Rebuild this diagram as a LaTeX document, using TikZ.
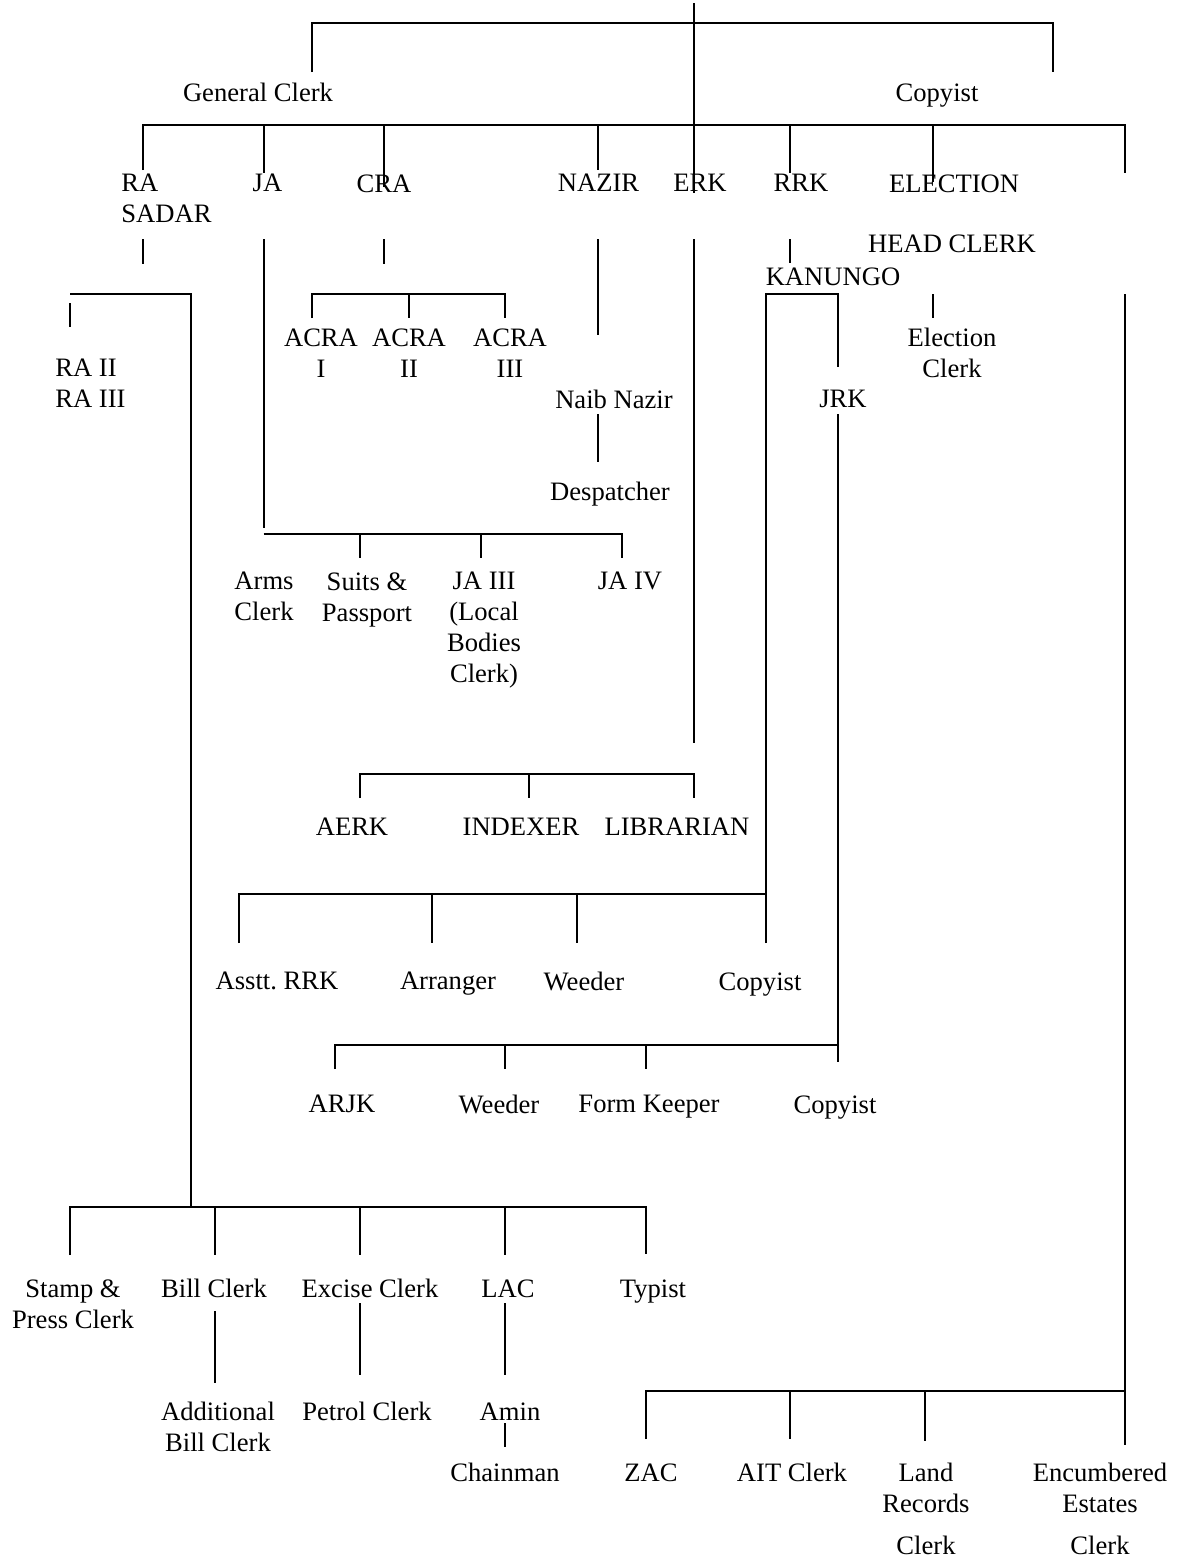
\documentclass[tikz,border=0pt]{standalone}
\usepackage{fontspec}
\setmainfont{Liberation Serif}
\frenchspacing
\begin{document}
\begin{tikzpicture}[x=0.5pt,y=-0.5pt,
  lbl/.style={font=\fontsize{13.3pt}{15.5pt}\selectfont, inner sep=0pt, anchor=north, align=center},
  conn/.style={line width=1pt, line join=miter}]
\useasboundingbox (0,0) rectangle (1184,1563);
% ---------- labels ----------
\node[lbl] (gc) at (258,83) {General Clerk};
\node[lbl] (cp0) at (937,83) {Copyist};
\node[lbl, anchor=north west, align=left] (ra) at (121,174) {RA\\SADAR};
\node[lbl] (ja) at (267.5,174) {JA};
\node[lbl] (cra) at (384,174) {CRA};
\node[lbl] (nazir) at (598.5,174) {NAZIR};
\node[lbl] (erk) at (700,174) {ERK};
\node[lbl] (rrk) at (801,174) {RRK};
\node[lbl] (election) at (954,174) {ELECTION};
\node[lbl] (headclerk) at (952,234) {HEAD CLERK};
\node[lbl] (kanungo) at (833,267) {KANUNGO};
\node[lbl] (acra1) at (321,328) {ACRA\\I};
\node[lbl] (acra2) at (409,328) {ACRA\\II};
\node[lbl] (acra3) at (510,328) {ACRA\\III};
\node[lbl] (elclerk) at (952,328) {Election\\Clerk};
\node[lbl, anchor=north west, align=left] (ra2) at (55,359) {RA II\\RA III};
\node[lbl] (naib) at (614,390) {Naib Nazir};
\node[lbl] (jrk) at (843,390) {JRK};
\node[lbl] (desp) at (610,482) {Despatcher};
\node[lbl] (arms) at (264,572) {Arms\\Clerk};
\node[lbl] (suits) at (367,572) {Suits \&\\Passport};
\node[lbl] (ja3) at (484,572) {JA III\\(Local\\Bodies\\Clerk)};
\node[lbl] (ja4) at (630,572) {JA IV};
\node[lbl] (aerk) at (352,818) {AERK};
\node[lbl] (indexer) at (521,818) {INDEXER};
\node[lbl] (librarian) at (677,818) {LIBRARIAN};
\node[lbl] (asstt) at (277,972) {Asstt.\ RRK};
\node[lbl] (arranger) at (448,972) {Arranger};
\node[lbl] (weedera) at (584,972) {Weeder};
\node[lbl] (copyista) at (760,972) {Copyist};
\node[lbl] (arjk) at (342,1095) {ARJK};
\node[lbl] (weederb) at (499,1095) {Weeder};
\node[lbl] (formkeeper) at (649,1095) {Form Keeper};
\node[lbl] (copyistb) at (835,1095) {Copyist};
\node[lbl] (stamp) at (73,1279) {Stamp \&\\Press Clerk};
\node[lbl] (bill) at (214,1279) {Bill Clerk};
\node[lbl] (excise) at (370,1279) {Excise Clerk};
\node[lbl] (lac) at (508,1279) {LAC};
\node[lbl] (typist) at (653,1279) {Typist};
\node[lbl] (addl) at (218,1402) {Additional\\Bill Clerk};
\node[lbl] (petrol) at (367,1402) {Petrol Clerk};
\node[lbl] (amin) at (510,1402) {Amin};
\node[lbl] (chain) at (505,1463) {Chainman};
\node[lbl] (zac) at (651,1463) {ZAC};
\node[lbl] (ait) at (792,1463) {AIT Clerk};
\node[lbl] (land) at (926,1463) {Land\\Records\\[5.5pt]Clerk};
\node[lbl] (encum) at (1100,1463) {Encumbered\\Estates\\[5.5pt]Clerk};
% ---------- connectors ----------
\draw[conn] (693.5,3) -- (693.5,193);
\draw[conn] (311.5,72) -- (311.5,23) -- (1053,23) -- (1053,72);
\draw[conn] (143,170) -- (143,125) -- (1125,125) -- (1125,173);
\draw[conn] (263.5,125) -- (263.5,173);
\draw[conn] (384,125) -- (384,187);
\draw[conn] (598,125) -- (598,170);
\draw[conn] (790,125) -- (790,173);
\draw[conn] (933,125) -- (933,182);
% RA SADAR
\draw[conn] (143,239) -- (143,264);
\draw[conn] (70,294) -- (191,294) -- (191,1207);
\draw[conn] (70,303) -- (70,327);
\draw[conn] (70,1255) -- (70,1207) -- (646,1207) -- (646,1254);
\draw[conn] (215,1207) -- (215,1255);
\draw[conn] (360,1207) -- (360,1255);
\draw[conn] (504.6,1207) -- (504.6,1255);
\draw[conn] (215,1311) -- (215,1383);
\draw[conn] (360,1303) -- (360,1375);
\draw[conn] (504.6,1303) -- (504.6,1375);
\draw[conn] (504.6,1423) -- (504.6,1447);
% CRA
\draw[conn] (384,239) -- (384,264);
\draw[conn] (311.5,318) -- (311.5,294) -- (504.6,294) -- (504.6,318);
\draw[conn] (408.5,294) -- (408.5,318);
% JA
\draw[conn] (263.5,239) -- (263.5,528);
\draw[conn] (263.5,534) -- (621.5,534) -- (621.5,558);
\draw[conn] (359.6,534) -- (359.6,558);
\draw[conn] (481,534) -- (481,558);
% NAZIR
\draw[conn] (598,239) -- (598,335);
\draw[conn] (598,414) -- (598,462);
% ERK
\draw[conn] (693.5,239) -- (693.5,743);
\draw[conn] (359.6,798) -- (359.6,774) -- (693.5,774) -- (693.5,798);
\draw[conn] (529,774) -- (529,798);
% RRK
\draw[conn] (790,239) -- (790,263);
\draw[conn] (766,943) -- (766,294) -- (838,294) -- (838,367);
\draw[conn] (239,943) -- (239,894) -- (766,894);
\draw[conn] (432,894) -- (432,943);
\draw[conn] (577,894) -- (577,943);
\draw[conn] (838,414) -- (838,1062);
\draw[conn] (335,1069) -- (335,1045) -- (838,1045);
\draw[conn] (504.6,1045) -- (504.6,1069);
\draw[conn] (646,1045) -- (646,1069);
% ELECTION
\draw[conn] (933,294) -- (933,318);
% right column
\draw[conn] (1125,294) -- (1125,1445);
\draw[conn] (646,1439) -- (646,1391) -- (1125,1391);
\draw[conn] (790,1391) -- (790,1439);
\draw[conn] (925,1391) -- (925,1441);
\end{tikzpicture}
\end{document}
